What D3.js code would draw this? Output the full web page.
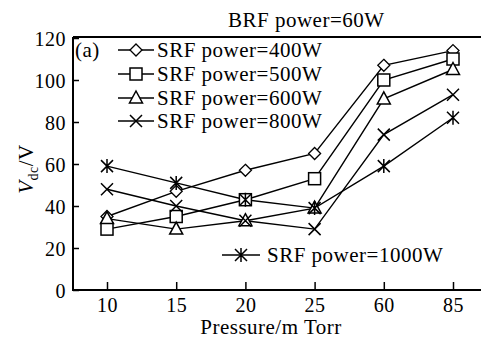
<!DOCTYPE html>
<html>
<head>
<meta charset="utf-8">
<script src="https://cdn.jsdelivr.net/npm/d3@7"></script>
<style>
  body { margin: 0; background: #fff; }
</style>
</head>
<body>
<svg id="chart" width="481" height="338"></svg>
<script>
// pressure categories (mTorr) and Vdc readings
pressures = ['10', '15', '20', '25', '60', '85'];
yTicks = [0, 20, 40, 60, 80, 100, 120];
srf400 = [35, 47, 57, 65, 107, 114];
srf500 = [29, 35, 43, 53, 100, 110];
srf600 = [34, 29, 33, 39, 91, 105];
srf800 = [48, 40, 33, 29, 74, 93];
srf1000 = [59, 51, 43, 39, 59, 82];
seriesNames = ['SRF power=400W', 'SRF power=500W', 'SRF power=600W', 'SRF power=800W', 'SRF power=1000W'];

width = 481;
height = 338;
left = 73;
top_ = 37;
bottom = 290;
FONT = "'Liberation Serif', 'Times New Roman', 'DejaVu Serif', serif";
FS = '21px';

svg = d3.select('#chart');

x = d3.scalePoint().domain(pressures).range([107, 453]);
y = d3.scaleLinear().domain([0, 120]).range([bottom, 38]);

function label(sel){
	return sel.attr('font-family', FONT).style('font-family', FONT).style('font-size', FS)
		.style('letter-spacing', '0.5px').attr('fill', '#000');
}

function marker(g, type, cx, cy){
	if(type == 'diamond'){
		g.append('path').attr('d', `M${cx},${cy-6}L${cx+6},${cy}L${cx},${cy+6}L${cx-6},${cy}Z`)
			.attr('fill', '#fff').attr('stroke', '#000').attr('stroke-width', 1.3);
	}else if(type == 'square'){
		g.append('rect').attr('x', cx-6).attr('y', cy-6).attr('width', 12).attr('height', 12)
			.attr('fill', '#fff').attr('stroke', '#000').attr('stroke-width', 1.5);
	}else if(type == 'triangle'){
		g.append('path').attr('d', `M${cx},${cy-7}L${cx+6.5},${cy+5}L${cx-6.5},${cy+5}Z`)
			.attr('fill', '#fff').attr('stroke', '#000').attr('stroke-width', 1.5);
	}else if(type == 'x'){
		g.append('path').attr('d', `M${cx-6},${cy-6}L${cx+6},${cy+6}M${cx+6},${cy-6}L${cx-6},${cy+6}`)
			.attr('stroke', '#000').attr('stroke-width', 1.5);
	}else{
		g.append('path').attr('d', `M${cx-6},${cy-6}L${cx+6},${cy+6}M${cx+6},${cy-6}L${cx-6},${cy+6}M${cx},${cy-7}L${cx},${cy+7}`)
			.attr('stroke', '#000').attr('stroke-width', 1.5);
	}
}

allSeries = [
	{vals: srf400, m: 'diamond'},
	{vals: srf500, m: 'square'},
	{vals: srf600, m: 'triangle'},
	{vals: srf800, m: 'x'},
	{vals: srf1000, m: 'star'}
];

line = d3.line().x((d, i) => x(pressures[i])).y(d => y(d));

// lines first, then markers on top
allSeries.forEach(s => {
	svg.append('path').datum(s.vals).attr('d', line)
		.attr('fill', 'none').attr('stroke', '#000').attr('stroke-width', 1.4);
});
// open markers, then the cross ones over them where they overlap
[0, 1, 2, 3, 4].forEach(k => {
	let s = allSeries[k];
	let g = svg.append('g');
	s.vals.forEach((v, i) => marker(g, s.m, x(pressures[i]), y(v)));
});

// axes
yAxis = svg.append('g').attr('transform', `translate(${left},0)`)
	.call(d3.axisLeft(y).tickValues(yTicks).tickSize(-6).tickPadding(7));
xAxis = svg.append('g').attr('transform', `translate(0,${bottom})`)
	.call(d3.axisBottom(x).tickSize(-8).tickPadding(8));
[yAxis, xAxis].forEach(a => {
	a.attr('font-family', FONT);
	a.select('.domain').remove();
	a.selectAll('line').attr('stroke', '#000').attr('stroke-width', 1.5);
	label(a.selectAll('text')).style('font-size', '20px');
});
yAxis.selectAll('text').attr('dy', '0.35em');

// frame: left, bottom and top
svg.append('path').attr('d', `M${left},${top_}L${left},${bottom}L${width},${bottom}`)
	.attr('fill', 'none').attr('stroke', '#000').attr('stroke-width', 2);
svg.append('line').attr('x1', left).attr('x2', width).attr('y1', top_).attr('y2', top_)
	.attr('stroke', '#000').attr('stroke-width', 2);

// title
label(svg.append('text').attr('x', 228).attr('y', 27)).text('BRF power=60W');
label(svg.append('text').attr('x', 75).attr('y', 57)).text('(a)');

// legend
legendY = [50, 74, 98, 121];
legendY.forEach((ly, k) => {
	let g = svg.append('g');
	g.append('line').attr('x1', 118).attr('x2', 154).attr('y1', ly).attr('y2', ly)
		.attr('stroke', '#000').attr('stroke-width', 1.4);
	marker(g, allSeries[k].m, 136, ly);
	label(g.append('text').attr('x', 157).attr('y', ly + 7)).text(seriesNames[k]);
});
g5 = svg.append('g');
g5.append('line').attr('x1', 222).attr('x2', 260).attr('y1', 255).attr('y2', 255)
	.attr('stroke', '#000').attr('stroke-width', 1.4);
marker(g5, 'star', 241, 255);
label(g5.append('text').attr('x', 267).attr('y', 262)).text(seriesNames[4]);

// axis titles
label(svg.append('text').attr('x', 271).attr('y', 334).attr('text-anchor', 'middle')).text('Pressure/m Torr');
yl = label(svg.append('text').attr('transform', 'translate(33,169) rotate(-90)').attr('text-anchor', 'middle'));
yl.append('tspan').style('font-style', 'italic').text('V');
yl.append('tspan').attr('dy', 5).style('font-size', '14px').text('dc');
yl.append('tspan').attr('dy', -5).text('/V');
</script>
</body>
</html>
